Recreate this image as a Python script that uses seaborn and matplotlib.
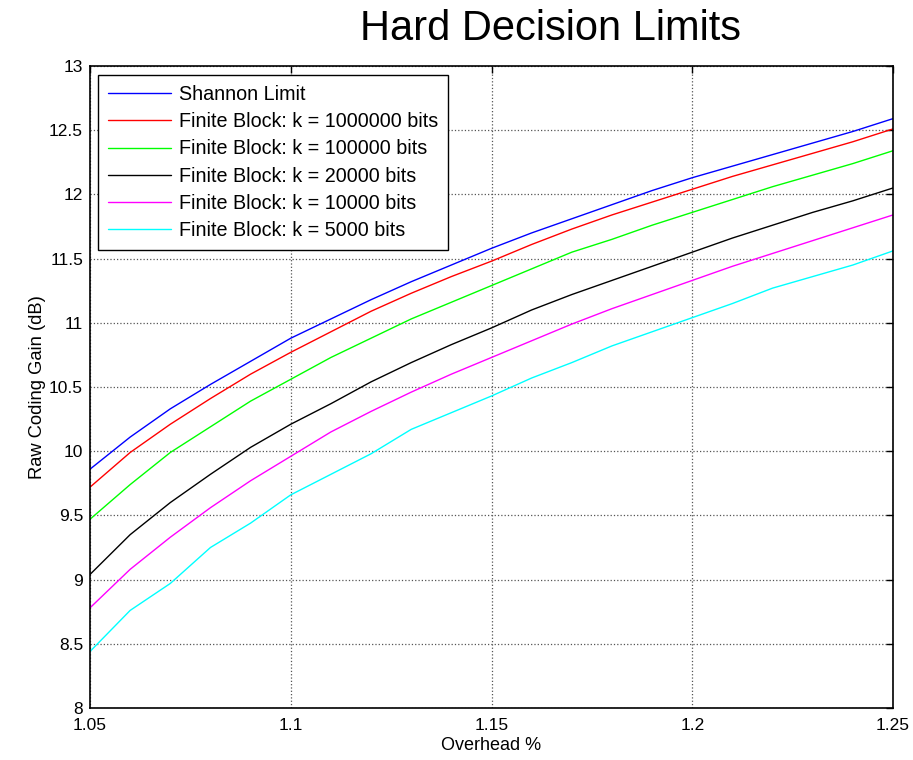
import numpy as np
import pandas as pd
import matplotlib
matplotlib.use("Agg")
import matplotlib.pyplot as plt
import seaborn as sns

overhead = [1.05, 1.06, 1.07, 1.08, 1.09, 1.10, 1.11, 1.12, 1.13, 1.14, 1.15,
            1.16, 1.17, 1.18, 1.19, 1.20, 1.21, 1.22, 1.23, 1.24, 1.25]

shannon = [9.86, 10.11, 10.33, 10.52, 10.70, 10.88, 11.03, 11.18, 11.32, 11.45, 11.58,
           11.70, 11.81, 11.92, 12.03, 12.13, 12.22, 12.31, 12.40, 12.49, 12.59]
k1000000 = [9.72, 9.99, 10.21, 10.41, 10.60, 10.77, 10.93, 11.09, 11.23, 11.36, 11.48,
            11.61, 11.73, 11.84, 11.94, 12.04, 12.14, 12.23, 12.32, 12.41, 12.51]
k100000 = [9.47, 9.74, 9.99, 10.19, 10.39, 10.56, 10.73, 10.88, 11.03, 11.16, 11.29,
           11.42, 11.55, 11.65, 11.76, 11.86, 11.96, 12.06, 12.15, 12.24, 12.34]
k20000 = [9.04, 9.35, 9.60, 9.82, 10.03, 10.21, 10.37, 10.54, 10.69, 10.83, 10.96,
          11.10, 11.22, 11.33, 11.44, 11.55, 11.66, 11.76, 11.86, 11.95, 12.05]
k10000 = [8.78, 9.08, 9.33, 9.56, 9.77, 9.96, 10.15, 10.31, 10.46, 10.60, 10.73,
          10.86, 10.99, 11.11, 11.22, 11.33, 11.44, 11.54, 11.64, 11.74, 11.84]
k5000 = [8.44, 8.76, 8.97, 9.25, 9.44, 9.66, 9.82, 9.98, 10.17, 10.30, 10.43,
         10.57, 10.69, 10.82, 10.93, 11.04, 11.15, 11.27, 11.36, 11.45, 11.56]

labels = ["Shannon Limit",
          "Finite Block: k = 1000000 bits",
          "Finite Block: k = 100000 bits",
          "Finite Block: k = 20000 bits",
          "Finite Block: k = 10000 bits",
          "Finite Block: k = 5000 bits"]
colors = ["#0000FF", "#FF0000", "#00FF00", "#000000", "#FF00FF", "#00FFFF"]
series = [shannon, k1000000, k100000, k20000, k10000, k5000]

xticks = [1.05, 1.10, 1.15, 1.20, 1.25]
xticklabels = ["1.05", "1.1", "1.15", "1.2", "1.25"]
yticks = [8, 8.5, 9, 9.5, 10, 10.5, 11, 11.5, 12, 12.5, 13]
yticklabels = ["8", "8.5", "9", "9.5", "10", "10.5", "11", "11.5", "12", "12.5", "13"]

rows = []
for lab, vals in zip(labels, series):
    for x, y in zip(overhead, vals):
        rows.append({"Overhead": x, "Gain": y, "Series": lab})
df = pd.DataFrame(rows)

sns.set_theme(style="white")
plt.rcParams['font.family'] = ['Liberation Sans', 'DejaVu Sans']
plt.rcParams['text.color'] = 'black'
plt.rcParams['axes.labelcolor'] = 'black'
plt.rcParams['xtick.color'] = 'black'
plt.rcParams['ytick.color'] = 'black'

fig = plt.figure(figsize=(9.13, 7.60), dpi=100)
ax = fig.add_axes([90/913, 1 - 708/760, (893-90)/913, (708-66)/760])

sns.lineplot(data=df, x="Overhead", y="Gain", hue="Series", hue_order=labels,
             palette=colors, linewidth=1.0, ax=ax, sort=False)

ax.set_xlim(1.05, 1.25)
ax.set_ylim(8, 13)
ax.set_xticks(xticks)
ax.set_xticklabels(xticklabels, fontsize=12.5)
ax.set_yticks(yticks)
ax.set_yticklabels(yticklabels, fontsize=12.5)
ax.grid(True, linestyle=':', color='#555555', linewidth=0.9)
ax.tick_params(axis='x', direction='in', top=True, length=5, width=1, pad=7)
ax.tick_params(axis='y', direction='in', right=True, length=5, width=1, pad=5)
for s in ax.spines.values():
    s.set_color('black')
    s.set_linewidth(1.2)

ax.set_xlabel("Overhead %", fontsize=13, labelpad=3)
ax.set_ylabel("Raw Coding Gain (dB)", fontsize=13.2, labelpad=2)
fig.text(551/913, 1 - 29/760, "Hard Decision Limits", fontsize=30,
         ha='center', va='center', color='black')

leg = ax.legend(loc='upper left', bbox_to_anchor=(0.01, 0.986), fontsize=14.2,
                frameon=True, fancybox=False, edgecolor='black', framealpha=1,
                handlelength=3.2, handletextpad=0.4, borderpad=0.5,
                labelspacing=0.42, borderaxespad=0)
leg.get_frame().set_linewidth(1.0)

fig.savefig("out.png", dpi=100)
